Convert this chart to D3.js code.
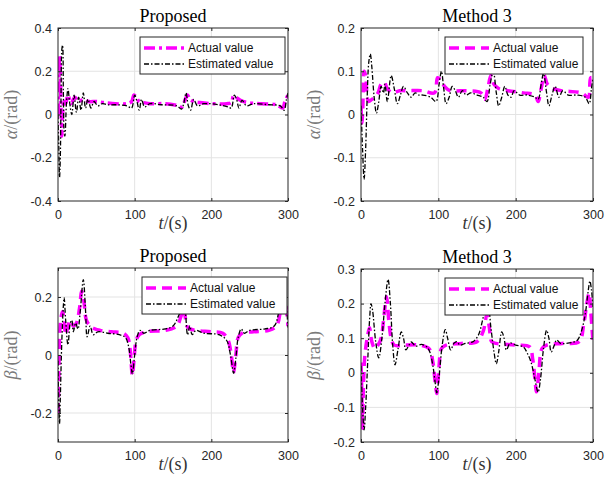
<!DOCTYPE html>
<html>
<head>
<meta charset="utf-8">
<script src="https://cdn.jsdelivr.net/npm/d3@7.9.0/dist/d3.min.js"></script>
<style>
  body { margin: 0; background: #fff; }
  svg { display: block; }
  .tick text { font-family: "Liberation Sans", Arial, sans-serif; font-size: 12.5px; fill: #262626; }
  .ttl, .lbl { font-family: "Liberation Serif", "Times New Roman", serif; }
  .leg { font-family: "Liberation Sans", Arial, sans-serif; font-size: 12px; fill: #111; }
</style>
</head>
<body>
<svg id="chart" width="607" height="487"></svg>
<script>
// time axis (s)
const xTicks = [0, 100, 200, 300];

// alpha, proposed observer: [t, value]
const propAlphaAct = [[0,0],[1,0.12],[2,0.27],[3,0.2],[4,0.02],[5,-0.1],[6,0],[8,0.07],[10,0.05],[13,0.09],[17,0.05],[22,0.08],[27,0.06],[33,0.07],[40,0.06],[50,0.06],[60,0.055],[75,0.05],[90,0.05],[96,0.06],[99,0.09],[102,0.08],[106,0.06],[112,0.055],[120,0.05],[140,0.05],[158,0.04],[162,0.035],[166,0.07],[169,0.09],[172,0.07],[177,0.06],[185,0.055],[200,0.05],[220,0.05],[226,0.055],[229,0.085],[232,0.08],[238,0.065],[248,0.055],[265,0.05],[285,0.045],[293,0.03],[296,0.06],[300,0.09]];
const propAlphaEst = [[0,0],[1,-0.15],[2,-0.29],[3,-0.2],[4,0.1],[5,0.3],[6,0.32],[7,0.1],[8,-0.08],[9,-0.1],[11,0.05],[13,0.12],[15,0.06],[18,0],[21,0.09],[24,0.01],[27,0.08],[30,0.02],[33,0.1],[36,0.03],[39,0.07],[43,0.03],[47,0.06],[52,0.04],[58,0.05],[65,0.045],[75,0.045],[90,0.04],[96,0.03],[100,0.09],[103,0.06],[106,0.02],[109,0.07],[113,0.035],[120,0.05],[135,0.045],[155,0.04],[161,0.025],[164,0.05],[167,0.1],[170,0.04],[173,0.02],[177,0.07],[182,0.04],[190,0.05],[210,0.045],[222,0.035],[226,0.03],[230,0.09],[233,0.07],[236,0.03],[240,0.065],[246,0.04],[255,0.05],[275,0.045],[290,0.04],[295,0.02],[298,0.07],[300,0.1]];

// alpha, method 3
const m3AlphaAct = [[0,0.02],[1,-0.02],[2,0],[3,0.06],[4,0.1],[6,0.09],[8,0.04],[10,0.03],[14,0.035],[18,0.04],[22,0.05],[26,0.07],[30,0.075],[34,0.06],[40,0.05],[50,0.055],[60,0.055],[80,0.055],[95,0.05],[99,0.085],[103,0.08],[108,0.065],[115,0.055],[130,0.055],[155,0.05],[160,0.035],[164,0.06],[168,0.09],[172,0.07],[178,0.06],[190,0.055],[210,0.05],[225,0.045],[229,0.03],[233,0.06],[237,0.09],[241,0.07],[248,0.06],[260,0.055],[285,0.05],[294,0.04],[297,0.085],[300,0.085]];
const m3AlphaEst = [[0,0.02],[2,-0.08],[4,-0.15],[6,-0.08],[8,0.04],[10,0.12],[12,0.14],[14,0.11],[17,0.04],[20,0.003],[23,0.03],[26,0.065],[29,0.05],[31,0.07],[34,0.03],[39,0.09],[43,0.06],[47,0.025],[51,0.045],[55,0.065],[60,0.05],[65,0.04],[70,0.05],[75,0.045],[80,0.045],[90,0.04],[97,0.03],[101,0.07],[104,0.1],[107,0.06],[110,0.025],[114,0.04],[118,0.065],[122,0.055],[126,0.04],[131,0.055],[136,0.045],[142,0.05],[150,0.045],[158,0.04],[163,0.03],[167,0.07],[171,0.1],[175,0.05],[178,0.02],[182,0.04],[186,0.065],[190,0.045],[194,0.04],[198,0.055],[205,0.045],[215,0.045],[225,0.04],[229,0.035],[233,0.07],[236,0.095],[240,0.05],[243,0.02],[247,0.045],[251,0.065],[256,0.04],[261,0.055],[268,0.045],[280,0.045],[290,0.04],[295,0.025],[298,0.06],[300,0.085]];

// beta, proposed observer
const propBetaAct = [[0,-0.2],[1,-0.1],[2,0.06],[4,0.13],[6,0.15],[8,0.12],[10,0.07],[13,0.1],[16,0.12],[20,0.1],[24,0.11],[28,0.16],[31,0.22],[34,0.18],[37,0.12],[42,0.1],[48,0.09],[55,0.085],[70,0.08],[85,0.075],[91,0.06],[94,0.02],[97,-0.07],[99,-0.02],[102,0.05],[106,0.07],[115,0.08],[140,0.085],[155,0.1],[160,0.13],[164,0.16],[166,0.13],[168,0.1],[172,0.09],[180,0.085],[200,0.08],[215,0.075],[222,0.05],[226,0],[229,-0.06],[232,0],[235,0.06],[240,0.075],[255,0.08],[275,0.085],[285,0.1],[290,0.15],[294,0.22],[297,0.18],[300,0.1]];
const propBetaEst = [[0,-0.02],[1,-0.17],[2,-0.237],[3,-0.15],[5,0.05],[7,0.17],[8,0.198],[10,0.12],[13,0.035],[16,0.11],[18,0.12],[20,0.08],[23,0.11],[26,0.09],[29,0.15],[33,0.26],[36,0.15],[38,0.063],[42,0.1],[46,0.07],[52,0.08],[65,0.075],[80,0.07],[88,0.06],[92,0.03],[95,-0.03],[97,-0.065],[100,0],[103,0.06],[107,0.085],[112,0.075],[120,0.085],[140,0.09],[150,0.1],[158,0.14],[163,0.18],[166,0.15],[169,0.07],[172,0.1],[175,0.07],[180,0.085],[190,0.075],[210,0.07],[220,0.05],[225,0],[229,-0.063],[232,-0.01],[235,0.06],[239,0.09],[243,0.075],[250,0.085],[270,0.09],[282,0.1],[288,0.15],[292,0.22],[295,0.26],[298,0.17],[300,0.095]];

// beta, method 3
const m3BetaAct = [[0,0.03],[1,-0.05],[2,-0.16],[3,-0.05],[5,0.05],[8,0.1],[11,0.13],[14,0.09],[18,0.07],[22,0.08],[26,0.1],[30,0.17],[33,0.22],[36,0.15],[39,0.1],[43,0.08],[55,0.08],[75,0.08],[88,0.07],[93,0.03],[96,-0.03],[98,-0.06],[101,0.02],[104,0.07],[110,0.08],[130,0.085],[150,0.09],[158,0.12],[163,0.17],[166,0.13],[169,0.09],[175,0.085],[200,0.08],[218,0.075],[222,0.04],[225,-0.02],[227,-0.055],[230,0],[234,0.07],[240,0.08],[260,0.085],[282,0.09],[288,0.14],[292,0.2],[295,0.23],[297,0.18],[299,0.12],[300,0.09]];
const m3BetaEst = [[0,0.02],[2,-0.1],[4,-0.165],[6,-0.1],[9,0.05],[11,0.15],[13,0.2],[15,0.18],[19,0.09],[23,0.043],[27,0.1],[31,0.2],[35,0.27],[38,0.2],[41,0.08],[44,0.023],[48,0.07],[52,0.118],[55,0.1],[58,0.066],[62,0.08],[65,0.089],[71,0.077],[78,0.082],[85,0.075],[89,0.06],[93,0.02],[96,-0.03],[98,-0.058],[101,-0.01],[105,0.08],[109,0.125],[112,0.1],[116,0.066],[120,0.085],[124,0.09],[128,0.08],[135,0.085],[145,0.09],[152,0.11],[157,0.15],[161,0.19],[164,0.2],[168,0.13],[172,0.06],[175,0.026],[178,0.06],[182,0.118],[185,0.1],[188,0.066],[193,0.086],[200,0.08],[210,0.075],[215,0.057],[220,0.03],[225,-0.02],[229,-0.056],[232,-0.02],[236,0.07],[240,0.123],[243,0.1],[246,0.06],[250,0.08],[253,0.095],[258,0.085],[265,0.085],[274,0.088],[280,0.095],[285,0.12],[290,0.17],[294,0.24],[296,0.265],[298,0.24],[300,0.19]];

const titles = ['Proposed', 'Method 3', 'Proposed', 'Method 3'];
const yTickSets = [
  [-0.4, -0.2, 0, 0.2, 0.4],
  [-0.2, -0.1, 0, 0.1, 0.2],
  [-0.2, 0, 0.2],
  [-0.2, -0.1, 0, 0.1, 0.2, 0.3]
];
const yDomains = [[-0.4, 0.4], [-0.2, 0.2], [-0.3, 0.3], [-0.2, 0.3]];
const legendLabels = ['Actual value', 'Estimated value'];

const panels = [
  { box: [58, 288, 28, 201], sym: 'α', act: propAlphaAct, est: propAlphaEst, dash: '11,4,3,4', legX: [140, 285] },
  { box: [361, 593, 28, 201], sym: 'α', act: m3AlphaAct, est: m3AlphaEst, dash: '10,6', legX: [445, 583] },
  { box: [58, 288, 268, 442], sym: 'β', act: propBetaAct, est: propBetaEst, dash: '10,6', legX: [142, 287] },
  { box: [361, 593, 269, 442], sym: 'β', act: m3BetaAct, est: m3BetaEst, dash: '10,6', legX: [445, 583] }
];

const estDash = '5,2,1.5,2';
const svg = d3.select('#chart');
const fmt = d => String(d);

panels.forEach((p, i) => {
  const [x0, x1, y0, y1] = p.box;
  const x = d3.scaleLinear().domain([0, 300]).range([x0, x1]);
  const y = d3.scaleLinear().domain(yDomains[i]).range([y1, y0]);
  const g = svg.append('g');

  // grid
  g.selectAll('.gx').data(xTicks.slice(1, -1)).enter().append('line')
    .attr('x1', d => x(d)).attr('x2', d => x(d)).attr('y1', y0).attr('y2', y1)
    .attr('stroke', '#e3e3e3').attr('stroke-width', 1);
  g.selectAll('.gy').data(yTickSets[i].filter(v => v > yDomains[i][0] && v < yDomains[i][1])).enter().append('line')
    .attr('x1', x0).attr('x2', x1).attr('y1', d => y(d)).attr('y2', d => y(d))
    .attr('stroke', '#e3e3e3').attr('stroke-width', 1);

  // curves
  const clipId = 'clip' + i;
  svg.append('clipPath').attr('id', clipId).append('rect')
    .attr('x', x0).attr('y', y0).attr('width', x1 - x0).attr('height', y1 - y0);
  const line = d3.line().x(d => x(d[0])).y(d => y(d[1])).curve(d3.curveCatmullRom.alpha(0.5));
  const cg = g.append('g').attr('clip-path', `url(#${clipId})`);
  cg.append('path').attr('d', line(p.act)).attr('fill', 'none')
    .attr('stroke', '#ff00ff').attr('stroke-width', 3.5).attr('stroke-dasharray', p.dash);
  cg.append('path').attr('d', line(p.est)).attr('fill', 'none')
    .attr('stroke', '#000').attr('stroke-width', 1.3).attr('stroke-dasharray', estDash);

  // axes (ticks inside, MATLAB box)
  const ax = d3.axisBottom(x).tickValues(xTicks).tickFormat(fmt).tickSizeInner(-3).tickSizeOuter(0).tickPadding(7);
  const ay = d3.axisLeft(y).tickValues(yTickSets[i]).tickFormat(fmt).tickSizeInner(-3).tickSizeOuter(0).tickPadding(6);
  const gx = g.append('g').attr('transform', `translate(0,${y1})`).call(ax);
  g.append('g').attr('transform', `translate(${x0},0)`).call(ay);
  g.append('g').attr('transform', `translate(0,${y0})`)
    .call(d3.axisTop(x).tickValues(xTicks).tickFormat('').tickSizeInner(-3).tickSizeOuter(0));
  g.append('g').attr('transform', `translate(${x1},0)`)
    .call(d3.axisRight(y).tickValues(yTickSets[i]).tickFormat('').tickSizeInner(-3).tickSizeOuter(0));
  g.selectAll('.domain').remove();
  g.selectAll('.tick line').attr('stroke', '#262626');
  gx.selectAll('.tick text').attr('dy', '0.9em');
  g.append('rect').attr('x', x0).attr('y', y0).attr('width', x1 - x0).attr('height', y1 - y0)
    .attr('fill', 'none').attr('stroke', '#262626').attr('stroke-width', 1);

  // title
  g.append('text').attr('class', 'ttl').attr('x', (x0 + x1) / 2).attr('y', y0 - 6)
    .attr('text-anchor', 'middle').attr('font-size', 18).attr('fill', '#000').text(titles[i]);

  // x label
  const xl = g.append('text').attr('class', 'lbl').attr('x', (x0 + x1) / 2).attr('y', y1 + 28)
    .attr('text-anchor', 'middle').attr('font-size', 18).attr('fill', '#333');
  xl.append('tspan').attr('font-style', 'italic').text('t');
  xl.append('tspan').text('/(s)');

  // y label
  const yl = g.append('text').attr('class', 'lbl')
    .attr('transform', `translate(${x0 - 41},${(y0 + y1) / 2}) rotate(-90)`)
    .attr('text-anchor', 'middle').attr('font-size', 18).attr('fill', '#7a7a7a');
  yl.append('tspan').attr('font-style', 'italic').text(p.sym);
  yl.append('tspan').text('/(rad)');

  // legend
  const [lx0, lx1] = p.legX;
  const ly0 = y0 + 9, ly1 = y0 + 46;
  g.append('rect').attr('x', lx0).attr('y', ly0).attr('width', lx1 - lx0).attr('height', ly1 - ly0)
    .attr('fill', '#fff').attr('stroke', '#262626').attr('stroke-width', 1);
  const lineStart = lx0 + 4, lineEnd = lx0 + 44, textX = lx0 + 48;
  g.append('line').attr('x1', lineStart).attr('x2', lineEnd).attr('y1', ly0 + 11).attr('y2', ly0 + 11)
    .attr('stroke', '#ff00ff').attr('stroke-width', 3.5).attr('stroke-dasharray', p.dash);
  g.append('line').attr('x1', lineStart).attr('x2', lineEnd).attr('y1', ly0 + 27).attr('y2', ly0 + 27)
    .attr('stroke', '#000').attr('stroke-width', 1.3).attr('stroke-dasharray', estDash);
  g.append('text').attr('class', 'leg').attr('x', textX).attr('y', ly0 + 15).text(legendLabels[0]);
  g.append('text').attr('class', 'leg').attr('x', textX).attr('y', ly0 + 31).text(legendLabels[1]);
});
</script>
</body>
</html>
